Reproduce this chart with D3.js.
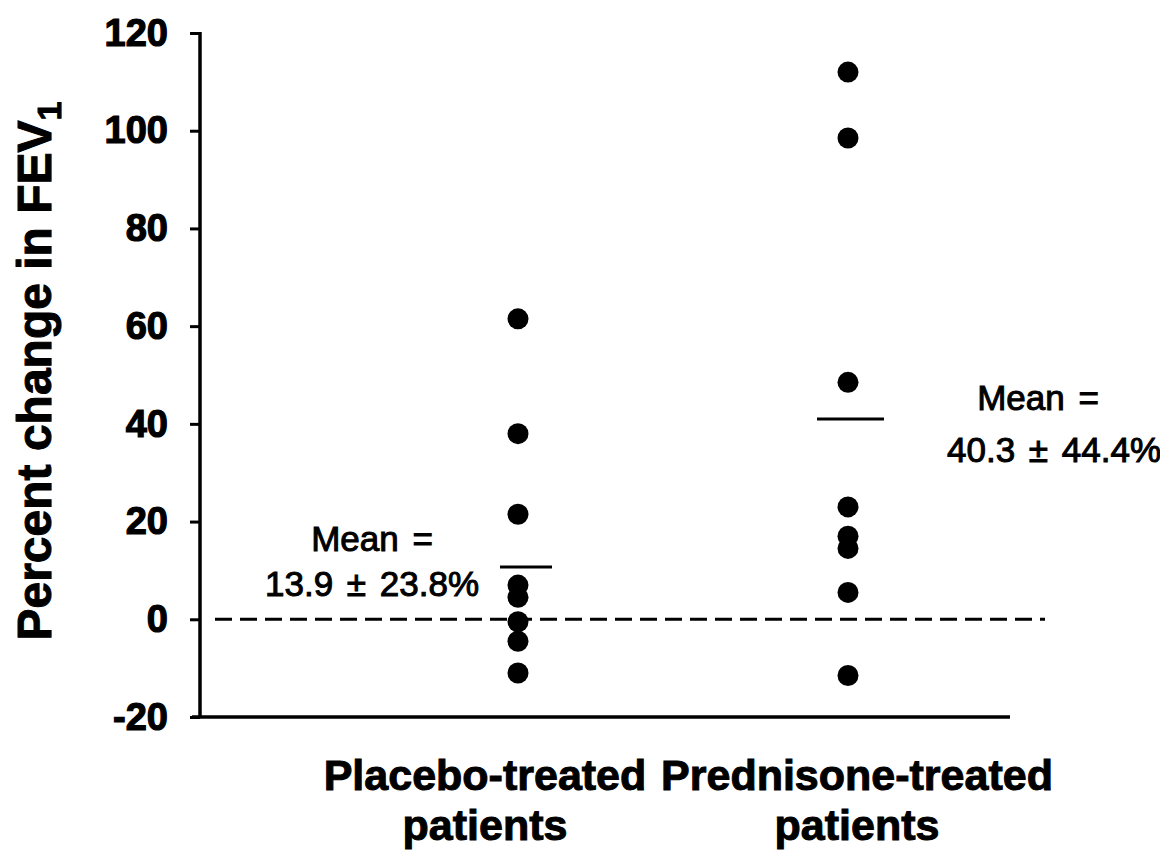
<!DOCTYPE html>
<html>
<head>
<meta charset="utf-8">
<script src="https://cdn.jsdelivr.net/npm/d3@7"></script>
<style>
  body { margin: 0; background: #fff; }
  svg { display: block; font-family: "Liberation Sans", Arial, sans-serif; }
</style>
</head>
<body>
<svg id="chart" width="1160" height="851"></svg>
<script>
// data
var groups = ["Placebo-treated", "Prednisone-treated"];
var placebo = [61.5, 38, 21.5, 7, 4.5, -0.5, -4.5, -11];
var prednisone = [112, 98.5, 48.5, 23, 17, 14.5, 5.5, -11.5];
var meanLines = [10.7, 41];
var meanText = [["Mean =", "13.9 \u00b1 23.8%"], ["Mean =", "40.3 \u00b1 44.4%"]];
var yTicks = [-20, 0, 20, 40, 60, 80, 100, 120];

const svg = d3.select("#chart");

const x = d3.scalePoint().domain(groups).range([518, 848]);
const y = d3.scaleLinear().domain([-20, 120]).range([717, 33]);

// y axis
const yAxis = svg.append("g")
  .attr("transform", "translate(200,0)")
  .call(d3.axisLeft(y).tickValues(yTicks).tickSize(10).tickPadding(22)
    .tickFormat(d => d < 0 ? "-" + Math.abs(d) : d));
yAxis.select(".domain").remove();
yAxis.selectAll(".tick line").attr("stroke", "#000").attr("stroke-width", 3);
yAxis.selectAll(".tick text")
  .attr("fill", "#000")
  .attr("stroke", "#000")
  .attr("stroke-width", 1.2)
  .style("font-size", "38px")
  .style("font-weight", "bold");

svg.append("line")
  .attr("x1", 200).attr("x2", 200)
  .attr("y1", y(120) - 1).attr("y2", y(-20) + 1)
  .attr("stroke", "#000").attr("stroke-width", 3.5);

// x axis line
svg.append("line")
  .attr("x1", 192).attr("x2", 1010)
  .attr("y1", y(-20)).attr("y2", y(-20))
  .attr("stroke", "#000").attr("stroke-width", 3.5);

// zero reference
svg.append("line")
  .attr("x1", 215).attr("x2", 1045)
  .attr("y1", y(0)).attr("y2", y(0))
  .attr("stroke", "#000").attr("stroke-width", 3)
  .attr("stroke-dasharray", "17,8");

// points
const series = [placebo, prednisone];
series.forEach((vals, i) => {
  svg.append("g")
    .selectAll("circle")
    .data(vals)
    .enter()
    .append("circle")
    .attr("cx", x(groups[i]))
    .attr("cy", d => y(d))
    .attr("r", 10.5)
    .attr("fill", "#000");
});

// mean lines
svg.append("g")
  .selectAll("line")
  .data(meanLines)
  .enter()
  .append("line")
  .attr("x1", (d, i) => x(groups[i]) - (i == 0 ? 18 : 31))
  .attr("x2", (d, i) => x(groups[i]) + (i == 0 ? 34 : 36))
  .attr("y1", d => y(d))
  .attr("y2", d => y(d))
  .attr("stroke", "#000")
  .attr("stroke-width", 3);

// mean annotations: [x of line 1, x of line 2, baseline, line gap]
const annPos = [[372, 372, 551, 45], [1038, 1054, 410, 52]];
meanText.forEach((lines, i) => {
  const t = svg.append("text")
    .attr("text-anchor", "middle")
    .attr("fill", "#000")
    .attr("stroke", "#000")
    .attr("stroke-width", 1)
    .style("font-size", "35px")
    .style("word-spacing", "4px");
  lines.forEach((s, j) => {
    t.append("tspan")
      .attr("x", annPos[i][j])
      .attr("y", annPos[i][2] + j * annPos[i][3])
      .text(s);
  });
});

// category labels
const labelX = [[485, 485], [857, 857]];
groups.forEach((g, i) => {
  const t = svg.append("text")
    .attr("text-anchor", "middle")
    .attr("fill", "#000")
    .attr("stroke", "#000")
    .attr("stroke-width", 1)
    .style("font-size", "43px")
    .style("font-weight", "bold");
  t.append("tspan").attr("x", labelX[i][0]).attr("y", 790).text(g);
  t.append("tspan").attr("x", labelX[i][1]).attr("y", 840).text("patients");
});

// y axis title
const yt = svg.append("text")
  .attr("transform", "translate(51,371) rotate(-90)")
  .attr("text-anchor", "middle")
  .attr("fill", "#000")
  .attr("stroke", "#000")
  .attr("stroke-width", 1)
  .style("font-size", "48px")
  .style("font-weight", "bold");
yt.append("tspan").text("Percent change in FEV");
yt.append("tspan").attr("dy", 10).style("font-size", "34px").text("1");
</script>
</body>
</html>
